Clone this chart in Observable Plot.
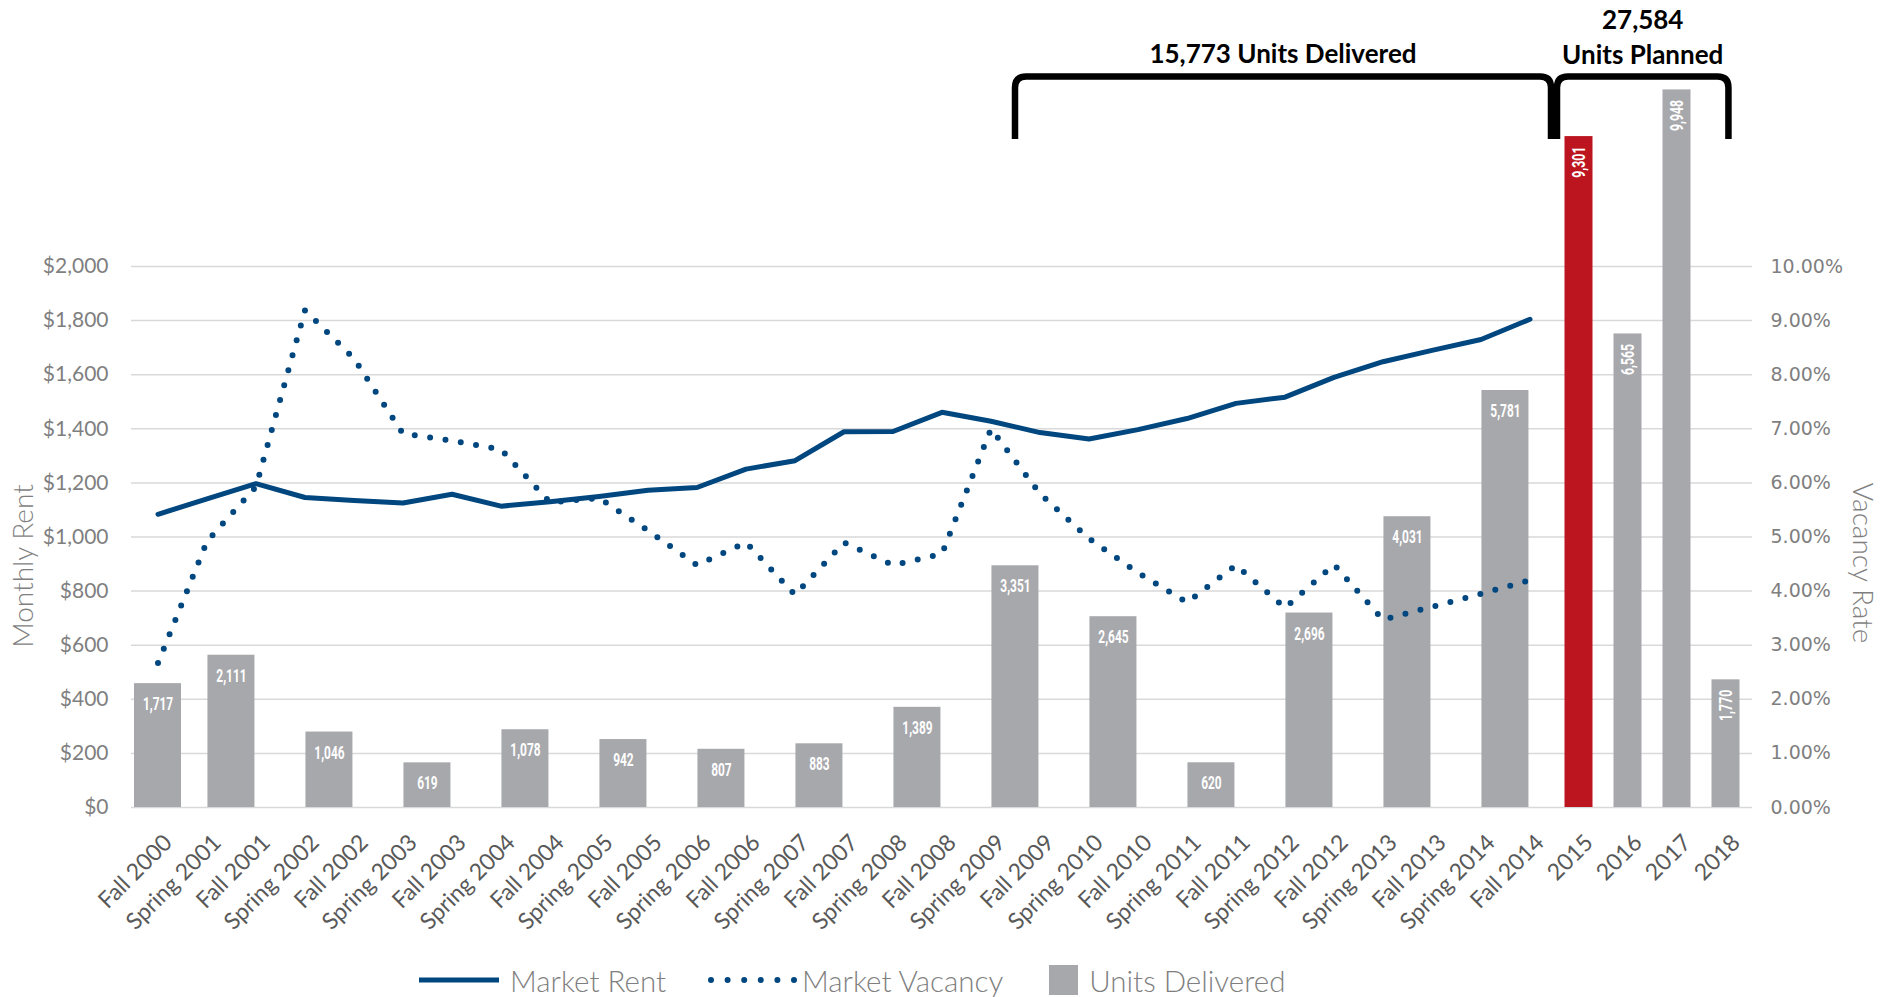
<!DOCTYPE html>
<html>
<head>
<meta charset="utf-8">
<script src="https://cdn.jsdelivr.net/npm/d3@7"></script>
<script src="https://cdn.jsdelivr.net/npm/@observablehq/plot@0.6"></script>
<style>
  html, body { margin: 0; padding: 0; background: #fff; }
  #wrap { position: relative; width: 1895px; height: 997px; overflow: hidden; }
  #legend { position: absolute; left: 419px; top: 962px; height: 36px; display: flex; align-items: center;
            font-family: Lato, sans-serif; font-weight: 300; font-size: 29.5px; color: #7f7f7f; white-space: nowrap; }
  #legend svg { display: block; }
</style>
</head>
<body>
<div id="wrap"></div>
<script>
// ---------------- data ----------------
const periods = ["Fall 2000","Spring 2001","Fall 2001","Spring 2002","Fall 2002","Spring 2003","Fall 2003",
  "Spring 2004","Fall 2004","Spring 2005","Fall 2005","Spring 2006","Fall 2006","Spring 2007","Fall 2007",
  "Spring 2008","Fall 2008","Spring 2009","Fall 2009","Spring 2010","Fall 2010","Spring 2011","Fall 2011",
  "Spring 2012","Fall 2012","Spring 2013","Fall 2013","Spring 2014","Fall 2014","2015","2016","2017","2018"];

const linePeriods = ["Fall 2000","Spring 2001","Fall 2001","Spring 2002","Fall 2002","Spring 2003","Fall 2003",
  "Spring 2004","Fall 2004","Spring 2005","Fall 2005","Spring 2006","Fall 2006","Spring 2007","Fall 2007",
  "Spring 2008","Fall 2008","Spring 2009","Fall 2009","Spring 2010","Fall 2010","Spring 2011","Fall 2011",
  "Spring 2012","Fall 2012","Spring 2013","Fall 2013","Spring 2014","Fall 2014"];
const marketRent = [1084,1141,1197,1146,1135,1126,1158,1114,1130,1150,1173,1183,1251,1282,1389,
  1390,1461,1428,1386,1362,1397,1438,1494,1517,1590,1648,1690,1730,1805];
const marketVacancy = [2.67,4.92,5.93,9.19,8.30,6.91,6.78,6.62,5.64,5.72,5.12,4.48,4.90,3.93,4.90,
  4.48,4.69,7.00,5.80,4.97,4.34,3.79,4.48,3.69,4.49,3.47,3.71,3.95,4.20];

const deliveredPeriods = ["Fall 2000","Fall 2001","Fall 2002","Fall 2003","Fall 2004","Fall 2005","Fall 2006",
  "Fall 2007","Fall 2008","Fall 2009","Fall 2010","Fall 2011","Fall 2012","Fall 2013","Fall 2014"];
const unitsDelivered = [1717,2111,1046,619,1078,942,807,883,1389,3351,2645,620,2696,4031,5781];

const plannedPeriods = ["2015","2016","2017","2018"];
const unitsPlanned = [9301,6565,9948,1770];
const highlightedPeriod = "2015";

const rentTicks = [0,200,400,600,800,1000,1200,1400,1600,1800,2000];
const vacancyTicks = [0,1,2,3,4,5,6,7,8,9,10];

const brackets = [
  {from: "Fall 2009", to: "2015", lines: ["15,773 Units Delivered"]},
  {from: "2015", to: "2018", lines: ["27,584", "Units Planned"]}
];

// ---------------- scales (dual axes mapped onto the rent axis) ----------------
const rentMax = 2000, vacancyMax = 10, unitsMax = 7500;
const vacToY = v => v * rentMax / vacancyMax;
const unitsToY = u => u * rentMax / unitsMax;

const navy = "#00467f", gray = "#a7a8ac", red = "#bd1520", gridColor = "#d9d9d9";
const fmt = d3.format(",");

const lineRows = linePeriods.map((p, i) => ({period: p, rent: marketRent[i], vacancy: marketVacancy[i]}));
const deliveredRows = deliveredPeriods.map((p, i) => ({period: p, units: unitsDelivered[i], first: i === 0}));
const plannedRows = plannedPeriods.map((p, i) => ({period: p, units: unitsPlanned[i]}));

const W = 1895, H = 955, mL = 131, mR = 143, mT = 266, mB = H - 807;
const step = (W - mL - mR) / periods.length;
const half = -step / 2;
const labelFont = "Roboto";

const chart = Plot.plot({
  width: W, height: H,
  marginLeft: mL, marginRight: mR, marginTop: mT, marginBottom: mB,
  style: {fontFamily: "Lato, sans-serif", background: "#fff", overflow: "visible"},
  x: {type: "band", domain: periods, padding: 0, axis: null},
  y: {domain: [0, rentMax], axis: null},
  color: {type: "identity"},
  marks: [
    Plot.ruleY(rentTicks, {y: d => d, stroke: gridColor, strokeWidth: 1.5}),
    Plot.barY(deliveredRows.filter(d => d.first), {x: "period", y: d => unitsToY(d.units), fill: gray, insetLeft: 1, insetRight: 1}),
    Plot.barY(deliveredRows.filter(d => !d.first), {x: "period", y: d => unitsToY(d.units), fill: gray, insetLeft: 1, insetRight: 1, dx: half}),
    Plot.barY(plannedRows, {x: "period", y: d => unitsToY(d.units), fill: d => d.period === highlightedPeriod ? red : gray, insetLeft: 10.5, insetRight: 10.5}),
    Plot.text(deliveredRows.filter(d => d.first), {x: "period", y: d => unitsToY(d.units), text: d => fmt(d.units), dy: 21,
      lineAnchor: "middle", fill: "#fff", fontWeight: "bold", fontSize: 17.5, fontFamily: labelFont}),
    Plot.text(deliveredRows.filter(d => !d.first), {x: "period", y: d => unitsToY(d.units), text: d => fmt(d.units), dy: 21, dx: half,
      lineAnchor: "middle", fill: "#fff", fontWeight: "bold", fontSize: 17.5, fontFamily: labelFont}),
    Plot.text(plannedRows, {x: "period", y: d => unitsToY(d.units), text: d => fmt(d.units), rotate: -90, textAnchor: "end",
      lineAnchor: "middle", dy: 10, fill: "#fff", fontWeight: "bold", fontSize: 18, fontFamily: labelFont}),
    Plot.line(lineRows, {x: "period", y: "rent", stroke: navy, strokeWidth: 5, strokeLinejoin: "round"}),
    Plot.line(lineRows, {x: "period", y: d => vacToY(d.vacancy), stroke: navy, strokeWidth: 6,
      strokeDasharray: "0 15.5", strokeLinecap: "round"}),
    Plot.text(rentTicks, {y: d => d, frameAnchor: "left", textAnchor: "end", dx: -23, text: d => "$" + fmt(d),
      fill: "#7f7f7f", fontSize: 21, lineAnchor: "middle"}),
    Plot.text(vacancyTicks, {y: d => vacToY(d), frameAnchor: "right", textAnchor: "start", dx: 18,
      text: d => d.toFixed(2) + "%", fill: "#7f7f7f", fontSize: 19, fontFamily: "'DejaVu Sans', sans-serif", lineAnchor: "middle"}),
    Plot.text(periods, {x: d => d, frameAnchor: "bottom", rotate: -45, textAnchor: "end", lineAnchor: "top",
      dx: 4, dy: 25, fill: "#595959", fontSize: 23}),
    Plot.text(["Monthly Rent"], {frameAnchor: "left", dx: -107, dy: 29, rotate: -90, textAnchor: "middle",
      lineAnchor: "middle", fill: "#7f7f7f", fontSize: 28, fontWeight: 300}),
    Plot.text(["Vacancy Rate"], {frameAnchor: "right", dx: 109, dy: 26, rotate: 90, textAnchor: "middle",
      lineAnchor: "middle", fill: "#7f7f7f", fontSize: 28, fontWeight: 300})
  ]
});

// condense the data labels horizontally (the original uses a condensed typeface)
d3.select(chart).selectAll(`g[font-family="${labelFont}"] text`).each(function() {
  const t = this.getAttribute("transform");
  if (t) this.setAttribute("transform", t + " scale(0.68,1)");
});

// bracket annotations positioned with the chart's x scale
const xs = chart.scale("x");
const bw = xs.bandwidth;
const svgSel = d3.select(chart);
const bTop = 76.5, bBot = 139, rad = 11;
brackets.forEach((b, i) => {
  const x1 = xs.apply(b.from) + (i === 0 ? 0 : 3);
  const x2 = b.to === "2018" ? xs.apply(b.to) + bw * 0.56 : xs.apply(b.to) - 3;
  svgSel.append("path")
    .attr("d", `M${x1},${bBot} L${x1},${bTop + rad} Q${x1},${bTop} ${x1 + rad},${bTop} L${x2 - rad},${bTop} Q${x2},${bTop} ${x2},${bTop + rad} L${x2},${bBot}`)
    .attr("fill", "none").attr("stroke", "#000").attr("stroke-width", 6.5).attr("stroke-linejoin", "round");
  const cx = (x1 + x2) / 2;
  const baselines = b.lines.length === 1 ? [63] : [29, 64];
  b.lines.forEach((t, j) => {
    svgSel.append("text").attr("x", cx).attr("y", baselines[j]).attr("text-anchor", "middle")
      .attr("font-family", "Lato, sans-serif").attr("font-weight", 700).attr("font-size", 26)
      .attr("fill", "#000").text(t);
  });
});

const wrap = document.getElementById("wrap");
wrap.appendChild(chart);

const legend = document.createElement("div");
legend.id = "legend";
legend.innerHTML = `
  <svg width="80" height="30"><line x1="0" x2="80" y1="15" y2="15" stroke="${navy}" stroke-width="5"/></svg>
  <span style="margin-left:11px">Market Rent</span>
  <svg width="90" height="30" style="margin-left:42px"><line x1="3" x2="88" y1="15" y2="15" stroke="${navy}" stroke-width="6" stroke-linecap="round" stroke-dasharray="0 16.6"/></svg>
  <span style="margin-left:4px">Market Vacancy</span>
  <svg width="29" height="30" style="margin-left:46px"><rect x="0" y="0" width="29" height="30" fill="${gray}"/></svg>
  <span style="margin-left:11px">Units Delivered</span>`;
wrap.appendChild(legend);
</script>
</body>
</html>
